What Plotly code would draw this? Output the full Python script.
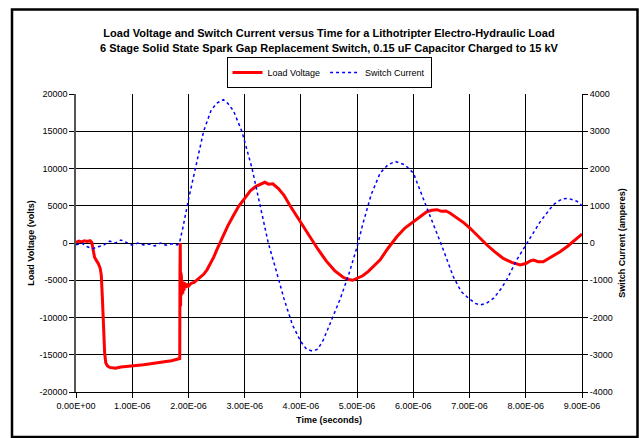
import plotly.graph_objects as go

# ---- data ----
time_us_v = [0.00, 0.05, 0.10, 0.15, 0.20, 0.25, 0.28, 0.30, 0.33, 0.36, 0.40, 0.43, 0.45, 0.47, 0.49, 0.51,
             0.53, 0.56, 0.60, 0.70, 0.80, 0.90, 1.00, 1.10, 1.20, 1.30, 1.40, 1.50, 1.60, 1.70, 1.80, 1.83,
             1.845, 1.85, 1.855, 1.86, 1.865, 1.87, 1.875, 1.88, 1.885, 1.89, 1.90, 1.91, 1.92, 1.93, 1.95,
             1.97, 2.00, 2.05, 2.10, 2.15, 2.20, 2.27, 2.33, 2.40, 2.45, 2.50, 2.56, 2.63, 2.70, 2.80, 2.89,
             3.00, 3.10, 3.20, 3.30, 3.36, 3.42, 3.50, 3.60, 3.70, 3.80, 3.90, 4.00, 4.08, 4.16, 4.30, 4.45,
             4.60, 4.75, 4.85, 4.92, 5.00, 5.10, 5.20, 5.30, 5.41, 5.55, 5.71, 5.85, 6.00, 6.12, 6.24, 6.33,
             6.42, 6.50, 6.58, 6.65, 6.80, 6.90, 7.01, 7.15, 7.31, 7.45, 7.60, 7.75, 7.90, 8.00, 8.08, 8.14,
             8.22, 8.31, 8.45, 8.61, 8.75, 8.90, 9.00]
load_voltage = [100, 250, 150, 300, 200, 300, 100, -900, -1900, -2300, -2800, -3400, -4300, -7500, -11500, -14800,
                -16100, -16500, -16700, -16800, -16650, -16600, -16550, -16400, -16350, -16250, -16100, -16000, -15900, -15800, -15650, -15550,
                -15500, -3000, 0, -8500, -4000, -7800, -4500, -7000, -5000, -6500, -6800, -5200, -6400, -5300, -6000,
                -5500, -5800, -5400, -5300, -5000, -4700, -4200, -3600, -2700, -1900, -1000, 0, 1200, 2300, 3700, 4900,
                6000, 7000, 7600, 8000, 8150, 7900, 7950, 7300, 6400, 5100, 3900, 2700, 1700, 850, -800, -2400,
                -3700, -4600, -4900, -5000, -4700, -4400, -3800, -3100, -2250, -700, 870, 2000, 2870, 3600, 4200, 4400,
                4470, 4250, 4300, 4030, 3300, 2700, 1980, 900, -270, -1200, -2060, -2600, -2960, -2750, -2400, -2290,
                -2500, -2510, -1900, -1170, -400, 500, 1200]

time_us_i = [0.00, 0.10, 0.20, 0.30, 0.40, 0.50, 0.60, 0.70, 0.80, 0.90, 1.00, 1.10, 1.20, 1.30, 1.40, 1.50,
             1.60, 1.70, 1.80, 1.84, 1.90, 2.00, 2.12, 2.27, 2.40, 2.50, 2.62, 2.70, 2.80, 2.95, 3.13, 3.27,
             3.42, 3.54, 3.70, 3.85, 4.00, 4.10, 4.20, 4.30, 4.40, 4.55, 4.70, 4.85, 5.00, 5.10, 5.25, 5.41,
             5.55, 5.68, 5.85, 6.00, 6.18, 6.30, 6.51, 6.71, 6.85, 6.95, 7.10, 7.19, 7.30, 7.43, 7.55, 7.66,
             7.84, 8.02, 8.14, 8.26, 8.49, 8.64, 8.75, 8.91, 9.00]
switch_current = [-50, 0, -100, -150, -100, -50, 50, 0, 80, 20, -60, 0, -50, -30, -80, 0,
                  -60, -20, -50, 0, 400, 1160, 2010, 3000, 3550, 3750, 3850, 3750, 3550, 3000, 2010, 1030,
                  0, -630, -1500, -2200, -2650, -2850, -2900, -2850, -2600, -2050, -1500, -850, -100, 500, 1300, 1880,
                  2100, 2190, 2100, 1880, 1210, 715, -90, -900, -1300, -1440, -1620, -1660, -1620, -1480, -1250, -990,
                  -450, 0, 300, 580, 1030, 1180, 1200, 1120, 1000]

x_ticks_s = [0, 1e-6, 2e-6, 3e-6, 4e-6, 5e-6, 6e-6, 7e-6, 8e-6, 9e-6]
y_ticks = [-20000, -15000, -10000, -5000, 0, 5000, 10000, 15000, 20000]
y2_ticks = [-4000, -3000, -2000, -1000, 0, 1000, 2000, 3000, 4000]

title_lines = ["Load Voltage and Switch Current versus Time for a Lithotripter Electro-Hydraulic Load",
               "6 Stage Solid State Spark Gap Replacement Switch, 0.15 uF Capacitor Charged to 15 kV"]

FONT = "Liberation Sans, Arial, sans-serif"

tv = [t * 1e-6 for t in time_us_v]
ti = [t * 1e-6 for t in time_us_i]

fig = go.Figure()
fig.add_trace(go.Scatter(x=tv, y=load_voltage, name="Load Voltage", mode="lines",
                         line=dict(color="#FF0000", width=3), yaxis="y"))
fig.add_trace(go.Scatter(x=ti, y=switch_current, name="Switch Current", mode="lines",
                         line=dict(color="#0000FF", width=1.5, dash="dot"), yaxis="y2"))

axis_common = dict(showline=True, linecolor="#000000", linewidth=1, ticks="outside",
                   ticklen=5, tickcolor="#000000", tickfont=dict(family=FONT, size=9, color="#000000"),
                   zeroline=False)

fig.update_layout(
    width=639, height=438,
    margin=dict(l=76, r=57, t=94, b=46),
    paper_bgcolor="white", plot_bgcolor="white",
    font=dict(family=FONT, size=9, color="#000000"),
    title=dict(text="<b>" + title_lines[0] + "</b><br><b>" + title_lines[1] + "</b>",
               font=dict(family=FONT, size=11, color="#000000"),
               x=0.5, xref="paper", xanchor="center", y=1 - 37.2 / 438, yanchor="middle"),
    showlegend=True,
    legend=dict(orientation="h", x=0.5, xanchor="center", y=(392 - 72.5) / 298, yanchor="middle",
                bgcolor="white", bordercolor="#000000", borderwidth=1,
                font=dict(family=FONT, size=9, color="#000000"), itemwidth=30),
    xaxis=dict(range=[0, 9e-6], tickvals=x_ticks_s, ticktext=[f"{v:.2E}" for v in x_ticks_s],
               showgrid=True, gridcolor="#000000", gridwidth=1,
               title=dict(text="<b>Time (seconds)</b>", font=dict(family=FONT, size=9), standoff=6),
               **axis_common),
    yaxis=dict(range=[-20000, 20000], tickvals=y_ticks, ticktext=[str(v) for v in y_ticks],
               showgrid=True, gridcolor="#000000", gridwidth=1,
               title=dict(text="<b>Load Voltage (volts)</b>", font=dict(family=FONT, size=9), standoff=3),
               **axis_common),
    yaxis2=dict(range=[-4000, 4000], tickvals=y2_ticks, ticktext=[str(v) for v in y2_ticks],
                overlaying="y", side="right", showgrid=False,
                title=dict(text="<b>Switch Current (amperes)</b>", font=dict(family=FONT, size=9), standoff=6),
                **axis_common),
)
fig.update_layout(yaxis_linecolor="#555555", yaxis_linewidth=1.5)

# outer chart frame
fig.add_shape(type="rect", xref="paper", yref="paper",
              x0=(12 - 76) / 506, x1=(637.5 - 76) / 506,
              y0=(392 - 437) / 298, y1=(392 - 9.5) / 298,
              line=dict(color="#000000", width=2.5), fillcolor="rgba(0,0,0,0)", layer="below")

fig.write_html("out.html")
